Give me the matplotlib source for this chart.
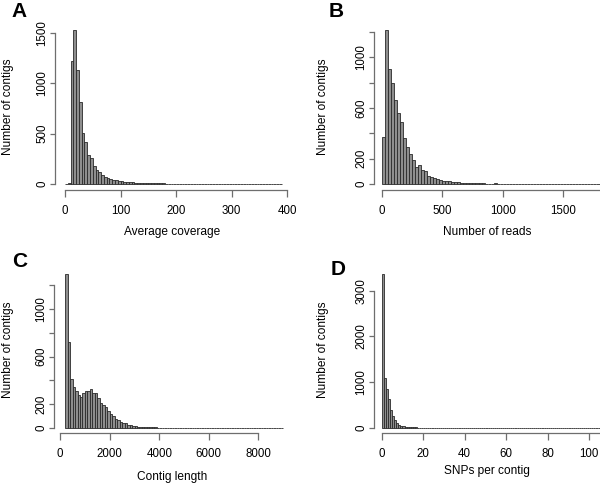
import numpy as np
import matplotlib.pyplot as plt

plt.rcParams['font.family'] = ['Liberation Sans', 'DejaVu Sans']

# A: average coverage, bins of 5 from 0
cov_width = 5
cov_counts = [3, 12, 1225, 1534, 1135, 813, 505, 422, 289, 262,
              183, 140, 120, 93, 73, 60, 50, 43, 35, 32,
              26, 22, 20, 17, 15, 13, 11, 10, 9, 8,
              7, 7, 6, 6, 5, 5, 4, 4, 4, 3,
              3, 3, 3, 2, 2, 3, 2, 2, 2, 2,
              2, 1, 2, 1, 1, 2, 1, 1, 1, 1,
              1, 1, 1, 1, 1, 1, 1, 1, 1, 1,
              1, 1, 1, 1, 1, 1, 1, 1]

# B: number of reads, bins of 25 from 0
reads_width = 25
reads_counts = [373, 1215, 905, 794, 663, 558, 492, 360, 295, 237,
                189, 137, 150, 110, 100, 63, 53, 45, 37, 32,
                24, 26, 21, 18, 15, 13, 11, 10, 9, 8,
                7, 6, 5, 5, 4, 4, 3, 5, 3, 3,
                2, 2, 2, 2, 2, 1, 2, 1, 1, 1,
                1, 1, 1, 1, 1, 1, 1, 1, 1, 1,
                1, 1, 1, 1, 1, 1, 1, 1, 1, 1,
                1, 1]

# C: contig length, bins of 100 from 200
len_start = 200
len_width = 100
len_counts = [1296, 720, 412, 344, 308, 280, 262, 290, 312, 314,
              330, 290, 290, 250, 210, 196, 180, 140, 115, 105,
              75, 70, 52, 45, 45, 28, 25, 18, 18, 12,
              10, 10, 8, 8, 6, 5, 5, 4, 4, 3,
              3, 3, 2, 3, 2, 2, 2, 2, 1, 2,
              1, 1, 1, 1, 1, 1, 1, 1, 1, 1,
              1, 1, 1, 1, 1, 1, 1, 1, 1, 1,
              1, 1, 1, 1, 1, 1, 1, 1, 1, 1,
              1, 1, 1, 1, 1, 1, 1, 1]

# D: SNPs per contig, bins of 1 from 0
snp_width = 1
snp_counts = [3370, 1092, 859, 640, 400, 255, 167, 109, 73, 51,
              40, 30, 25, 20, 16, 13, 11, 10, 9, 8,
              7, 6, 6, 5, 5, 4, 4, 4, 3, 3,
              3, 3, 2, 2, 2, 2, 2, 2, 1, 2,
              1, 1, 1, 1, 1, 1, 1, 1, 1, 1,
              1, 1, 1, 1, 1, 1, 1, 1, 1, 1,
              1, 1, 1, 1, 1, 1, 1, 1, 1, 1,
              1, 1, 1, 1, 1, 1, 1, 1, 1, 1,
              1, 1, 1, 1, 1, 1, 1, 1, 1, 1,
              1, 1, 1, 1, 1, 1, 1, 1, 1, 1,
              1, 1, 1, 1, 1]

W, H = 600, 486
fig = plt.figure(figsize=(6, 4.86), dpi=100)

def px_axes(left, top, right, bottom):
    return fig.add_axes([left / W, 1 - bottom / H, (right - left) / W, (bottom - top) / H])

spine_col = '#6e6e6e'

def draw_panel(ax, box, start, width, counts, xlim, ylim, xticks, xbound, yticks, ylabels,
               xlabel, letter, letter_xy, ylab_right, xlab_top):
    left, top, right, bottom = box
    edges = start + width * np.arange(len(counts))
    ax.bar(edges, counts, width=width, align='edge', color='#8e8e8e',
           edgecolor='#2a2a2a', linewidth=0.6)
    ax.set_xlim(*xlim)
    ax.set_ylim(*ylim)
    for s in ['top', 'right']:
        ax.spines[s].set_visible(False)
    for s in ['left', 'bottom']:
        ax.spines[s].set_color(spine_col)
        ax.spines[s].set_linewidth(0.9)
    ax.spines['bottom'].set_bounds(*xbound)
    ax.spines['left'].set_bounds(yticks[0], yticks[-1])
    ax.set_xticks(xticks)
    ax.set_xticklabels([str(t) for t in xticks])
    ax.set_yticks(yticks)
    ax.set_yticklabels(ylabels, rotation=90, va='center')
    ax.tick_params(axis='both', direction='out', width=0.9,
                   color=spine_col, labelsize=8.3)
    ax.tick_params(axis='x', length=5, pad=6)
    ax.tick_params(axis='y', length=3.8, pad=1)
    ax.set_xlabel(xlabel, fontsize=8.6)
    ax.set_ylabel('Number of contigs', fontsize=8.6)
    ax.yaxis.set_label_coords((ylab_right - left) / (right - left), 0.5)
    ax.xaxis.set_label_coords(0.5, -(xlab_top - bottom) / (bottom - top))
    fig.text(letter_xy[0] / W, 1 - letter_xy[1] / H, letter, fontsize=15,
             fontweight='bold', ha='left', va='top')

# panel A
boxA = (55, 23.7, 290, 190)
draw_panel(px_axes(*boxA), boxA, 0, cov_width, cov_counts, (-18, 405), (-60, 1595),
           [0, 100, 200, 300, 400], (0, 400), [0, 500, 1000, 1500],
           ['0', '500', '1000', '1500'], 'Average coverage', 'A', (11, 2),
           14, 226)

# panel B
boxB = (374, 23.8, 600, 190)
draw_panel(px_axes(*boxB), boxB, 0, reads_width, reads_counts, (-63.6, 1804), (-47, 1264),
           [0, 500, 1000, 1500], (0, 1804), [0, 200, 400, 600, 800, 1000, 1200],
           ['0', '200', '', '600', '', '1000', ''], 'Number of reads', 'B', (329, 2),
           329, 226)

# panel C
boxC = (54, 267.6, 290, 432.7)
draw_panel(px_axes(*boxC), boxC, len_start, len_width, len_counts, (-250, 9274), (-39.5, 1348),
           [0, 2000, 4000, 6000, 8000], (0, 8000), [0, 200, 400, 600, 800, 1000, 1200],
           ['0', '200', '', '600', '', '1000', ''], 'Contig length', 'C', (12, 252),
           14, 471)

# panel D
boxD = (374, 267.6, 600, 432.7)
draw_panel(px_axes(*boxD), boxD, 0, snp_width, snp_counts, (-3.7, 105.2), (-103, 3505),
           [0, 20, 40, 60, 80, 100], (0, 105.2), [0, 1000, 2000, 3000],
           ['0', '1000', '2000', '3000'], 'SNPs per contig', 'D', (331, 260),
           329, 465)

fig.savefig('out.png', dpi=100)
